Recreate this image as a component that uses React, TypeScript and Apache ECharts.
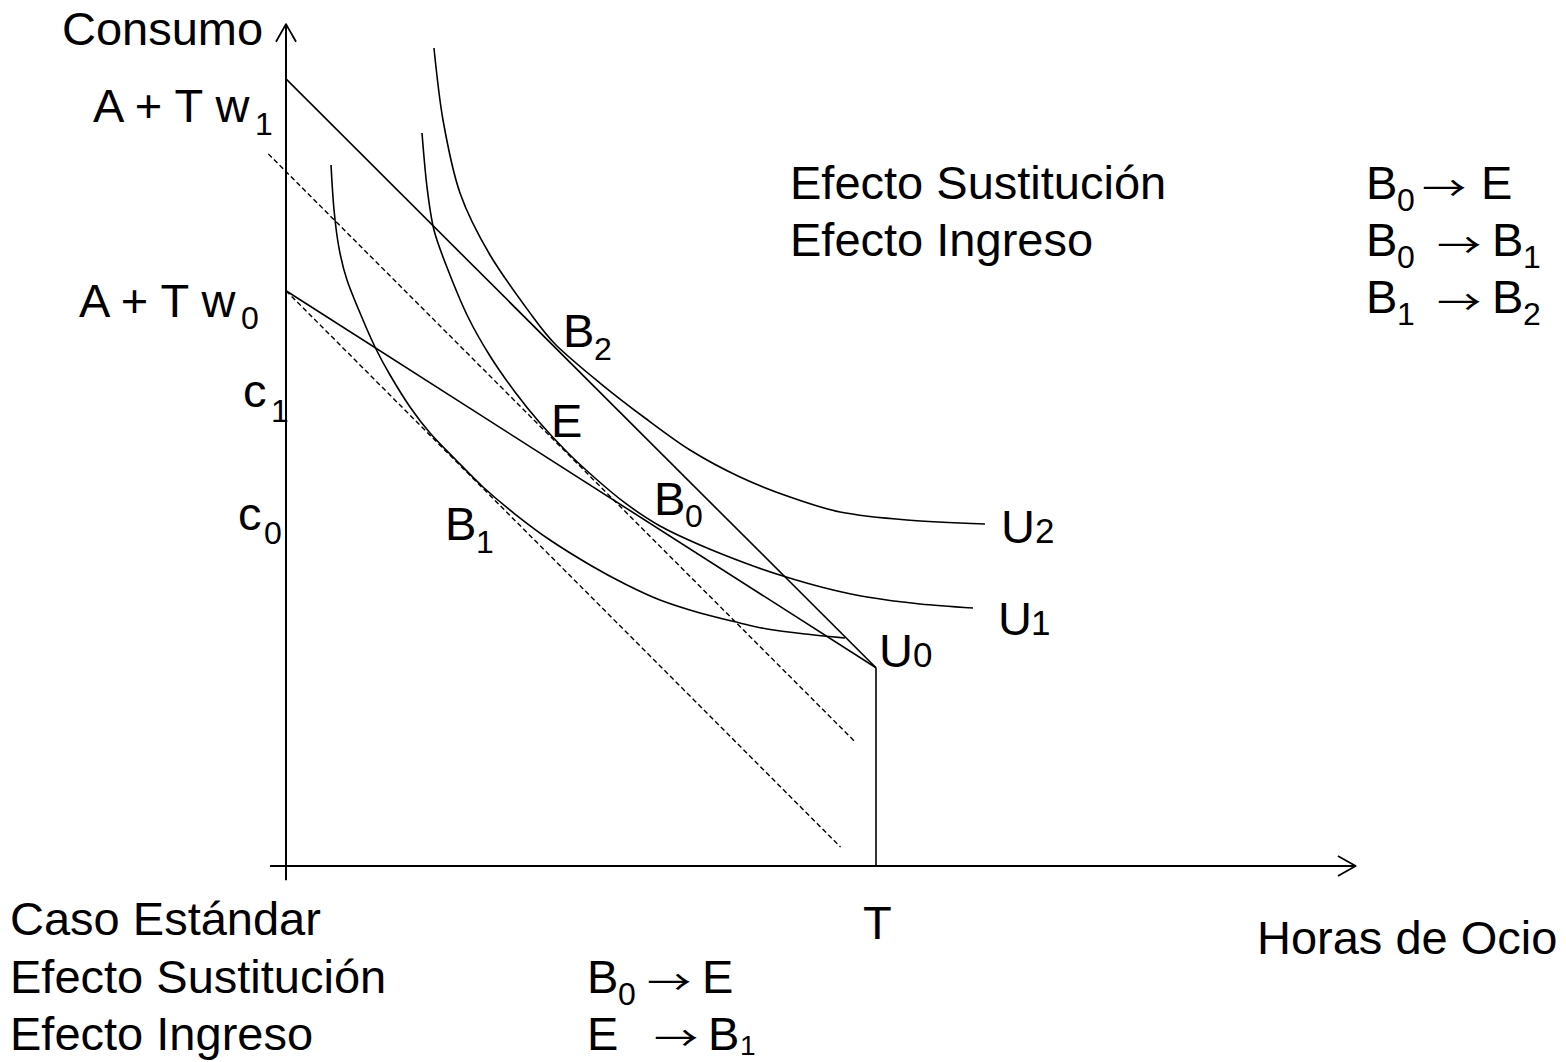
import React, { useEffect, useRef } from "react";
import * as echarts from "echarts";

// ---- Data (leisure hours on x, consumption on y) ----
const T_HOURS = 10;
const A_INCOME = 3.36;
const budgetW1 = [[0, 13.34], [T_HOURS, A_INCOME]];
const budgetW0 = [[0, 9.75], [T_HOURS, A_INCOME]];
const endowmentLine = [[T_HOURS, A_INCOME], [T_HOURS, 0]];
const dashedUpper = [[-0.3, 12.07], [9.65, 2.1]];
const dashedLower = [[0, 9.75], [9.4, 0.32]];

const curveU0 = [
  [0.763, 11.881], [0.814, 11.119], [0.898, 10.475], [1.034, 9.932], [1.305, 9.254],
  [1.525, 8.763], [1.763, 8.322], [2.102, 7.78], [2.441, 7.339], [2.881, 6.881],
  [3.339, 6.424], [3.881, 5.966], [4.475, 5.525], [5.153, 5.102], [5.746, 4.78],
  [6.339, 4.508], [7.017, 4.288], [7.695, 4.119], [8.153, 4.017], [8.797, 3.932],
  [9.475, 3.864],
];
const curveU1 = [
  [2.305, 12.424], [2.39, 11.508], [2.508, 10.78], [2.746, 10.102], [3.085, 9.305],
  [3.458, 8.644], [3.881, 8.034], [4.305, 7.508], [4.763, 7.017], [5.237, 6.576],
  [5.746, 6.153], [6.339, 5.763], [7.017, 5.441], [7.78, 5.136], [8.424, 4.915],
  [9.136, 4.712], [9.847, 4.559], [10.746, 4.441], [11.644, 4.373],
];
const curveU2 = [
  [2.508, 13.864], [2.661, 12.644], [2.949, 11.407], [3.458, 10.356], [4.186, 9.305],
  [4.576, 8.831], [5.322, 8.186], [6.085, 7.593], [6.847, 7.051], [7.695, 6.593],
  [8.542, 6.254], [9.39, 6.0], [10.525, 5.864], [11.847, 5.797],
];

const yAxisLine = [[0, -0.24], [0, 14.27]];
const yAxisArrow = [[-0.17, 13.97], [0, 14.27], [0.17, 13.97]];
const xAxisLine = [[-0.27, 0], [18.13, 0]];
const xAxisArrow = [[17.83, 0.17], [18.13, 0], [17.83, -0.17]];

// ---- Text labels ----
const FONT = "'Liberation Sans', Arial, Helvetica, sans-serif";
const ARROW_FONT = "'Noto Sans CJK JP', 'Noto Sans CJK SC', sans-serif";
const MAIN = 47;
const SUB = 32;
const ARR = 34;

// bl = text baseline; mid = vertical centre (used for the arrows)
type Lab = { t: string; x: number; bl?: number; mid?: number; fs?: number; f?: string; sx?: number };
const labels: Lab[] = [
  { t: "Consumo", x: 62, bl: 45 },
  { t: "A + T w", x: 93, bl: 122 },
  { t: "1", x: 255, bl: 135, fs: SUB },
  { t: "A + T w", x: 79, bl: 317 },
  { t: "0", x: 241, bl: 329, fs: SUB },
  { t: "c", x: 243, bl: 407 },
  { t: "1", x: 271, bl: 422, fs: SUB },
  { t: "c", x: 238, bl: 530 },
  { t: "0", x: 264, bl: 544, fs: SUB },
  { t: "B", x: 563, bl: 347 },
  { t: "2", x: 594, bl: 360, fs: SUB },
  { t: "E", x: 551, bl: 437 },
  { t: "B", x: 654, bl: 515 },
  { t: "0", x: 685, bl: 527, fs: SUB },
  { t: "B", x: 445, bl: 540 },
  { t: "1", x: 476, bl: 553, fs: SUB },
  { t: "U", x: 1001, bl: 543 },
  { t: "2", x: 1035, bl: 543, fs: 35 },
  { t: "U", x: 998, bl: 635 },
  { t: "1", x: 1031, bl: 635, fs: 35 },
  { t: "U", x: 879, bl: 667 },
  { t: "0", x: 913, bl: 667, fs: 35 },
  { t: "Efecto Sustitución", x: 790, bl: 199 },
  { t: "Efecto Ingreso", x: 790, bl: 256 },
  { t: "B", x: 1366, bl: 199 },
  { t: "0", x: 1397, bl: 211, fs: SUB },
  { t: "→", x: 1422, mid: 186, fs: ARR, f: ARROW_FONT, sx: 1.3 },
  { t: "E", x: 1481, bl: 199 },
  { t: "B", x: 1366, bl: 256 },
  { t: "0", x: 1397, bl: 268, fs: SUB },
  { t: "→", x: 1437, mid: 243, fs: ARR, f: ARROW_FONT, sx: 1.3 },
  { t: "B", x: 1492, bl: 256 },
  { t: "1", x: 1523, bl: 268, fs: SUB },
  { t: "B", x: 1366, bl: 313 },
  { t: "1", x: 1397, bl: 325, fs: SUB },
  { t: "→", x: 1437, mid: 300, fs: ARR, f: ARROW_FONT, sx: 1.3 },
  { t: "B", x: 1492, bl: 313 },
  { t: "2", x: 1523, bl: 325, fs: SUB },
  { t: "T", x: 863, bl: 939 },
  { t: "Horas de Ocio", x: 1257, bl: 954 },
  { t: "Caso Estándar", x: 10, bl: 935 },
  { t: "Efecto Sustitución", x: 10, bl: 993 },
  { t: "Efecto Ingreso", x: 10, bl: 1050 },
  { t: "B", x: 587, bl: 993 },
  { t: "0", x: 618, bl: 1005, fs: SUB },
  { t: "→", x: 647, mid: 980, fs: ARR, f: ARROW_FONT, sx: 1.3 },
  { t: "E", x: 702, bl: 993 },
  { t: "E", x: 587, bl: 1050 },
  { t: "→", x: 654, mid: 1036, fs: ARR, f: ARROW_FONT, sx: 1.3 },
  { t: "B", x: 708, bl: 1050 },
  { t: "1", x: 740, bl: 1055, fs: 28 },
];

function line(name: string, data: number[][], opts: any = {}) {
  return {
    type: "line",
    name,
    data,
    symbol: "none",
    showSymbol: false,
    silent: true,
    smooth: opts.smooth ?? false,
    lineStyle: {
      color: "#000",
      width: opts.width ?? 1.6,
      type: opts.dash ? [5, 3] : "solid",
      cap: "butt",
      join: "round",
    },
    z: opts.z ?? 2,
  };
}

export default function App() {
  const ref = useRef<HTMLDivElement>(null);
  useEffect(() => {
    if (!ref.current) return;
    const chart = echarts.init(ref.current, undefined, { renderer: "svg" });
    const graphics = labels.map((l) => {
      const fs = l.fs ?? MAIN;
      const y = l.mid !== undefined ? l.mid : (l.bl as number) - 0.3465 * fs;
      return {
        type: "text",
        x: l.x,
        y,
        scaleX: l.sx ?? 1,
        silent: true,
        style: {
          text: l.t,
          fontSize: fs,
          fontFamily: l.f ?? FONT,
          fill: "#000",
          align: "left",
          verticalAlign: "middle",
        },
      };
    });
    chart.setOption({
      animation: false,
      backgroundColor: "#fff",
      grid: { left: 256.5, top: 10.5, width: 1121, height: 885 },
      xAxis: { type: "value", min: -0.5, max: 18.5, show: false },
      yAxis: { type: "value", min: -0.5, max: 14.5, show: false },
      series: [
        line("yAxis", yAxisLine, { width: 2 }),
        line("yArrow", yAxisArrow, { width: 1.8 }),
        line("xAxis", xAxisLine, { width: 2 }),
        line("xArrow", xAxisArrow, { width: 1.8 }),
        line("Budget w1", budgetW1),
        line("Budget w0", budgetW0),
        line("Endowment", endowmentLine),
        line("Compensated w1", dashedUpper, { dash: true, width: 1.4 }),
        line("Parallel w1", dashedLower, { dash: true, width: 1.4 }),
        line("U0", curveU0, { smooth: 0.3 }),
        line("U1", curveU1, { smooth: 0.3 }),
        line("U2", curveU2, { smooth: 0.3 }),
      ],
      graphic: graphics,
    });
    return () => chart.dispose();
  }, []);
  return (
    <div
      ref={ref}
      style={{ position: "absolute", left: 0, top: 0, width: 1566, height: 1062, background: "#fff" }}
    />
  );
}
